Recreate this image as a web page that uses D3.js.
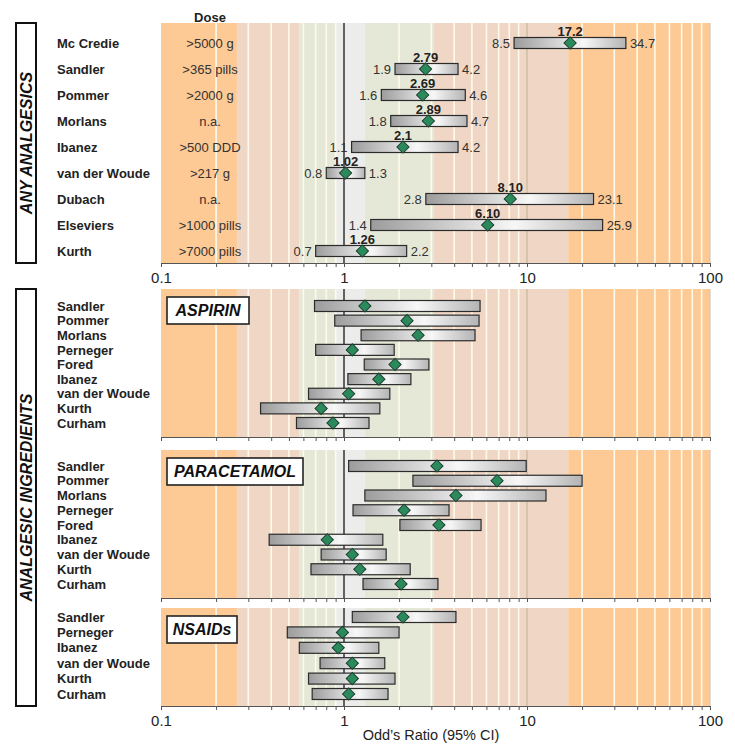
<!DOCTYPE html>
<html><head><meta charset="utf-8">
<script src="https://cdn.jsdelivr.net/npm/d3@7"></script>
<style>body{margin:0;background:#fff} svg{display:block;font-family:"Liberation Sans",Arial,sans-serif}</style>
</head><body><svg id="c" width="735" height="755"></svg>
<script>
// ---------- data ----------
const anyStudies = ["Mc Credie","Sandler","Pommer","Morlans","Ibanez","van der Woude","Dubach","Elseviers","Kurth"];
const anyDose = [">5000 g",">365 pills",">2000 g","n.a.",">500 DDD",">217 g","n.a.",">1000 pills",">7000 pills"];
const anyOR = [17.2,2.79,2.69,2.89,2.1,1.02,8.10,6.10,1.26];
const anyORLabel = ["17.2","2.79","2.69","2.89","2.1","1.02","8.10","6.10","1.26"];
const anyLow = [8.5,1.9,1.6,1.8,1.1,0.8,2.8,1.4,0.7];
const anyHigh = [34.7,4.2,4.6,4.7,4.2,1.3,23.1,25.9,2.2];

const aspirinStudies = ["Sandler","Pommer","Morlans","Perneger","Fored","Ibanez","van der Woude","Kurth","Curham"];
const aspirinOR = [1.30,2.21,2.54,1.11,1.90,1.55,1.06,0.75,0.87];
const aspirinLow = [0.69,0.89,1.24,0.70,1.29,1.05,0.64,0.35,0.55];
const aspirinHigh = [5.54,5.47,5.2,1.88,2.91,2.32,1.78,1.57,1.37];

const paraStudies = ["Sandler","Pommer","Morlans","Perneger","Fored","Ibanez","van der Woude","Kurth","Curham"];
const paraOR = [3.22,6.86,4.09,2.13,3.30,0.81,1.11,1.22,2.05];
const paraLow = [1.06,2.38,1.30,1.12,2.02,0.39,0.75,0.66,1.27];
const paraHigh = [9.9,20.0,12.7,3.75,5.61,1.63,1.70,2.30,3.26];

const nsaidStudies = ["Sandler","Perneger","Ibanez","van der Woude","Kurth","Curham"];
const nsaidOR = [2.10,0.98,0.93,1.11,1.11,1.06];
const nsaidLow = [1.11,0.49,0.57,0.74,0.64,0.67];
const nsaidHigh = [4.09,2.0,1.55,1.67,1.90,1.74];

const tickValues = [0.1,1,10,100];
const tickLabels = ["0.1","1","10","100"];
const zoneBreaks = [0.1,0.26,0.57,0.9,1.3,3.1,16.8,100];
const zoneColors = ["#fdc995","#f0d6c4","#e6e8d7","#ececea","#e6e8d7","#f0d6c4","#fdc995"];

// ---------- layout ----------
const svg = d3.select("#c");
const x = d3.scaleLog().domain([0.1,100]).range([161,710]);
const minor = x.ticks();

const defs = svg.append("defs");
const g = defs.append("linearGradient").attr("id","barg").attr("x1","0").attr("x2","1").attr("y1","0").attr("y2","0");
g.append("stop").attr("offset","0%").attr("stop-color","#9c9c9c");
g.append("stop").attr("offset","62%").attr("stop-color","#f7f7f7");
g.append("stop").attr("offset","100%").attr("stop-color","#b4b4b4");

const panels = [
  {names:anyStudies, or:anyOR, lo:anyLow, hi:anyHigh, top:23, bottom:263, r0:43, r1:251, labels:true, detail:true},
  {names:aspirinStudies, or:aspirinOR, lo:aspirinLow, hi:aspirinHigh, top:289, bottom:437, r0:306, r1:423, labels:false, title:"ASPIRIN", tw:82},
  {names:paraStudies, or:paraOR, lo:paraLow, hi:paraHigh, top:450, bottom:598, r0:466, r1:584, labels:false, title:"PARACETAMOL", tw:136},
  {names:nsaidStudies, or:nsaidOR, lo:nsaidLow, hi:nsaidHigh, top:608, bottom:706, r0:617, r1:694, labels:true, title:"NSAIDs", tw:70}
];

const diamond = d3.symbol(d3.symbolSquare, 74);

panels.forEach(p => {
  const idx = d3.range(p.names.length);
  const y = d3.scalePoint().domain(idx).range([p.r0, p.r1]);
  const h = p.bottom - p.top;
  const G = svg.append("g");
  // zones
  G.selectAll("rect.zone").data(zoneColors).join("rect").attr("class","zone")
    .attr("x",(c,i)=>x(zoneBreaks[i])).attr("width",(c,i)=>x(zoneBreaks[i+1])-x(zoneBreaks[i]))
    .attr("y",p.top).attr("height",h).attr("fill",c=>c);
  // gridlines
  G.selectAll("line.grid").data(minor.filter(v=>!tickValues.some(t=>Math.abs(t-v)<1e-9))).join("line")
    .attr("x1",d=>x(d)).attr("x2",d=>x(d)).attr("y1",p.top).attr("y2",p.bottom)
    .attr("stroke","#fffaeb").attr("stroke-width",1.6);
  G.append("line").attr("x1",x(10)).attr("x2",x(10)).attr("y1",p.top).attr("y2",p.bottom).attr("stroke","#b9b392").attr("stroke-width",1);
  G.append("line").attr("x1",x(100)).attr("x2",x(100)).attr("y1",p.top).attr("y2",p.bottom).attr("stroke","#c9c2b4").attr("stroke-width",1);
  G.append("line").attr("x1",x(1)).attr("x2",x(1)).attr("y1",p.top).attr("y2",p.bottom).attr("stroke","#333").attr("stroke-width",1.5);
  // axis
  const ax = d3.axisBottom(x).tickValues(minor).tickSize(4).tickSizeOuter(0).tickPadding(5)
    .tickFormat(d => { const k = tickValues.findIndex(t=>Math.abs(t-d)<1e-9); return (p.labels && k>=0) ? tickLabels[k] : ""; });
  const A = G.append("g").attr("transform",`translate(0,${p.bottom})`).call(ax);
  A.select(".domain").attr("stroke","#555");
  A.selectAll(".tick line").attr("stroke","#555");
  A.selectAll(".tick text").attr("font-size",15).attr("fill","#222").attr("font-family","Liberation Sans, Arial, sans-serif");
  // names
  G.selectAll("text.name").data(idx).join("text").attr("class","name")
    .attr("x",57).attr("y",i=>y(i)).attr("dy","0.36em").attr("font-size",13).attr("font-weight","bold").attr("fill","#222")
    .text(i=>p.names[i]);
  // bars
  G.selectAll("rect.bar").data(idx).join("rect").attr("class","bar")
    .attr("x",i=>x(p.lo[i])).attr("width",i=>x(p.hi[i])-x(p.lo[i]))
    .attr("y",i=>y(i)-5.5).attr("height",11).attr("fill","url(#barg)").attr("stroke","#2b2b2b").attr("stroke-width",1.2);
  G.selectAll("path.pt").data(idx).join("path").attr("class","pt")
    .attr("d",diamond).attr("transform",i=>`translate(${x(p.or[i])},${y(i)}) rotate(45)`)
    .attr("fill","#2b8a5c").attr("stroke","#1b3f2d").attr("stroke-width",1);
  if (p.detail) {
    G.selectAll("text.dose").data(idx).join("text").attr("x",210).attr("y",i=>y(i)).attr("dy","0.36em")
      .attr("text-anchor","middle").attr("font-size",13).attr("fill","#333").text(i=>anyDose[i]);
    G.selectAll("text.lo").data(idx).join("text").attr("x",i=>x(p.lo[i])-4).attr("y",i=>y(i)).attr("dy","0.36em")
      .attr("text-anchor","end").attr("font-size",13).attr("fill","#333").text(i=>String(p.lo[i]));
    G.selectAll("text.hi").data(idx).join("text").attr("x",i=>x(p.hi[i])+4).attr("y",i=>y(i)).attr("dy","0.36em")
      .attr("font-size",13).attr("fill","#333").text(i=>String(p.hi[i]));
    G.selectAll("text.est").data(idx).join("text").attr("x",i=>x(p.or[i])).attr("y",i=>y(i)-7)
      .attr("text-anchor","middle").attr("font-size",13).attr("font-weight","bold").attr("fill","#222").text(i=>anyORLabel[i]);
  }
  if (p.title) {
    G.append("rect").attr("x",167).attr("y",p.top+8).attr("width",p.tw).attr("height",27)
      .attr("fill","#fff").attr("stroke","#222").attr("stroke-width",1.6);
    G.append("text").attr("x",167+p.tw/2).attr("y",p.top+8+13.5).attr("dy","0.36em").attr("text-anchor","middle")
      .attr("font-size",16).attr("font-weight","bold").attr("font-style","italic").attr("fill","#111").text(p.title);
  }
});

svg.append("text").attr("x",210).attr("y",17).attr("dy","0.36em").attr("text-anchor","middle")
  .attr("font-size",13).attr("font-weight","bold").attr("fill","#222").text("Dose");

// side labels
[[23,263,"ANY ANALGESICS"],[289,706,"ANALGESIC INGREDIENTS"]].forEach(([t,b,s])=>{
  svg.append("rect").attr("x",16).attr("y",t).attr("width",20).attr("height",b-t).attr("fill","#fff").attr("stroke","#111").attr("stroke-width",2);
  svg.append("text").attr("transform",`translate(26,${(t+b)/2}) rotate(-90)`).attr("dy","0.36em").attr("text-anchor","middle")
    .attr("font-size",16).attr("font-weight","bold").attr("font-style","italic").attr("fill","#111").text(s);
});

svg.append("text").attr("x",431).attr("y",735).attr("dy","0.36em").attr("text-anchor","middle")
  .attr("font-size",14.5).attr("fill","#222").text("Odd\u2019s Ratio (95% CI)");
</script></body></html>
